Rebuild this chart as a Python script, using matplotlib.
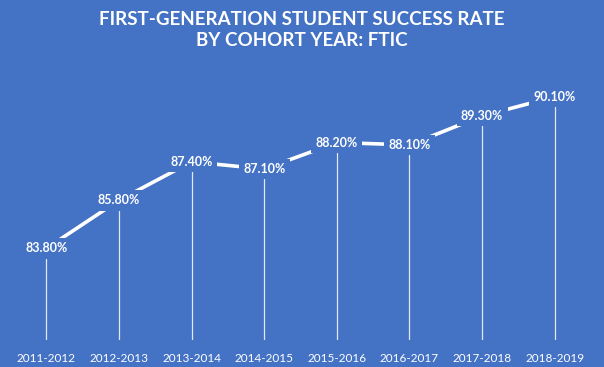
import matplotlib.pyplot as plt

# ------------------------------------------------------------
# Chart data
# ------------------------------------------------------------
cohorts = [
    "2011-2012", "2012-2013", "2013-2014", "2014-2015",
    "2015-2016", "2016-2017", "2017-2018", "2018-2019",
]
success_rate = [83.8, 85.8, 87.4, 87.1, 88.2, 88.1, 89.3, 90.1]

BG = "#4472C4"
FONT = ["Lato", "DejaVu Sans"]


def main() -> None:
    fig = plt.figure(figsize=(6.04, 3.67), dpi=100, facecolor=BG)
    ax = fig.add_axes([10 / 604, 1 - 340 / 367, 581 / 604, 289 / 367])
    ax.set_facecolor(BG)

    x = list(range(len(cohorts)))
    y_min = 80.0

    # drop lines from each point down to the category axis
    ax.vlines(x, y_min, success_rate, color="white", linewidth=0.9, alpha=0.85)
    ax.plot(x, success_rate, color="white", linewidth=2.6, solid_capstyle="butt")

    for xi, yi in zip(x, success_rate):
        ax.text(
            xi, yi, f"{yi:.2f}%",
            ha="center", va="center", color="white", fontsize=9,
            fontweight="bold", family=FONT,
            bbox=dict(boxstyle="square,pad=0.35", facecolor=BG, edgecolor="none"),
        )

    ax.set_xlim(-0.5, len(cohorts) - 0.5)
    ax.set_ylim(y_min, 92)
    ax.set_xticks(x)
    ax.set_xticklabels(cohorts, color="white", fontsize=8.5, family=FONT)
    ax.tick_params(axis="x", length=0, pad=9)
    ax.set_yticks([])
    for spine in ax.spines.values():
        spine.set_visible(False)

    fig.text(
        0.5, 1 - 30 / 367,
        "FIRST-GENERATION STUDENT SUCCESS RATE\nBY COHORT YEAR: FTIC",
        ha="center", va="center", color="white", fontsize=13.5,
        fontweight="bold", family=FONT, linespacing=1.35,
    )

    fig.savefig("out.png", dpi=100, facecolor=BG)
    plt.close(fig)


if __name__ == "__main__":
    main()
